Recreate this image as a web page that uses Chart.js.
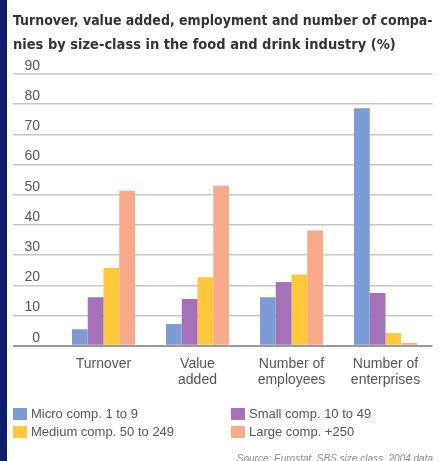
<!DOCTYPE html>
<html>
<head>
<meta charset="utf-8">
<script src="https://cdn.jsdelivr.net/npm/chart.js@4.4.1/dist/chart.umd.min.js"></script>
<style>
  html, body { margin: 0; padding: 0; background: #fff; }
  #wrap { position: relative; width: 443px; height: 461px; }
</style>
</head>
<body>
<div id="wrap"><canvas id="chart"></canvas></div>
<script>
const titleLines = [
  'Turnover, value added, employment and number of compa-',
  'nies by size-class in the food and drink industry (%)'
];
const categories = [['Turnover'], ['Value', 'added'], ['Number of', 'employees'], ['Number of', 'enterprises']];
const seriesNames = ['Micro comp. 1 to 9', 'Small comp. 10 to 49', 'Medium comp. 50 to 249', 'Large comp. +250'];
const micro = [5.5, 7.2, 16.1, 78.7];
const small = [16.1, 15.5, 21.1, 17.5];
const medium = [25.8, 22.7, 23.6, 4.2];
const large = [51.3, 53.0, 38.2, 0.9];
const yTicks = [0, 10, 20, 30, 40, 50, 60, 70, 80, 90];
const sourceText = 'Source: Eurostat, SBS size class, 2004 data';

const colors = ['#7f9bd6', '#a571b9', '#fec83c', '#f9aa8a'];
const textFont = "'Liberation Sans', Arial, sans-serif";

// navy strip on the left + white background
const frame = {
  id: 'frame',
  beforeDraw(chart) {
    const ctx = chart.ctx;
    ctx.save();
    ctx.fillStyle = '#fff';
    ctx.fillRect(0, 0, chart.width, chart.height);
    ctx.fillStyle = '#0c1c6e';
    ctx.fillRect(0, 0, 7, chart.height);
    ctx.restore();
  }
};

// two-column legend and source line under the plot
const bottomLegend = {
  id: 'bottomLegend',
  afterDraw(chart) {
    const ctx = chart.ctx;
    const cols = [13, 231];
    const rows = [414, 432];
    ctx.save();
    ctx.font = '13px ' + textFont;
    ctx.textBaseline = 'middle';
    chart.data.datasets.forEach((ds, i) => {
      const x = cols[i % 2];
      const y = rows[Math.floor(i / 2)];
      ctx.fillStyle = ds.backgroundColor;
      ctx.fillRect(x, y - 6, 14, 12);
      ctx.fillStyle = '#555';
      ctx.fillText(ds.label, x + 18, y);
    });
    ctx.font = 'italic 10px ' + textFont;
    ctx.fillStyle = '#888';
    ctx.textAlign = 'right';
    ctx.fillText(sourceText, 433, 459);
    ctx.restore();
  }
};

new Chart(document.getElementById('chart'), {
  type: 'bar',
  data: {
    labels: categories,
    datasets: [micro, small, medium, large].map((d, i) => ({
      label: seriesNames[i],
      data: d,
      backgroundColor: colors[i],
      borderWidth: 0,
      barPercentage: 1.0,
      categoryPercentage: 0.67
    }))
  },
  options: {
    responsive: true,
    maintainAspectRatio: false,
    animation: false,
    layout: { padding: { left: 13, right: 10.5, top: 0, bottom: 71 } },
    plugins: {
      legend: { display: false },
      tooltip: { enabled: false },
      title: {
        display: true,
        text: titleLines,
        align: 'start',
        color: '#333',
        font: { family: "'Liberation Sans Narrow', 'DejaVu Sans Condensed', sans-serif", size: 14.5, weight: 'bold', lineHeight: 1.6 },
        padding: { top: 10, bottom: 17.6 }
      }
    },
    scales: {
      x: {
        grid: { display: false },
        border: { display: false },
        ticks: {
          color: '#555',
          font: { family: textFont, size: 14, lineHeight: 1.15 },
          padding: 2,
          maxRotation: 0
        }
      },
      y: {
        min: 0,
        max: 90,
        afterFit(scale) { scale.width = 43.5; },
        afterBuildTicks(scale) { scale.ticks = yTicks.map(v => ({ value: v })); },
        border: { display: false },
        grid: {
          tickLength: 43.5,
          color: ctx => ctx.tick && ctx.tick.value === 0 ? '#9a9a9a' : '#c6c6c6',
          lineWidth: ctx => ctx.tick && ctx.tick.value === 0 ? 2 : 1.5
        },
        ticks: {
          color: '#555',
          font: { family: textFont, size: 14 },
          padding: -27,
          labelOffset: -8
        }
      }
    }
  },
  plugins: [frame, bottomLegend]
});
</script>
</body>
</html>
